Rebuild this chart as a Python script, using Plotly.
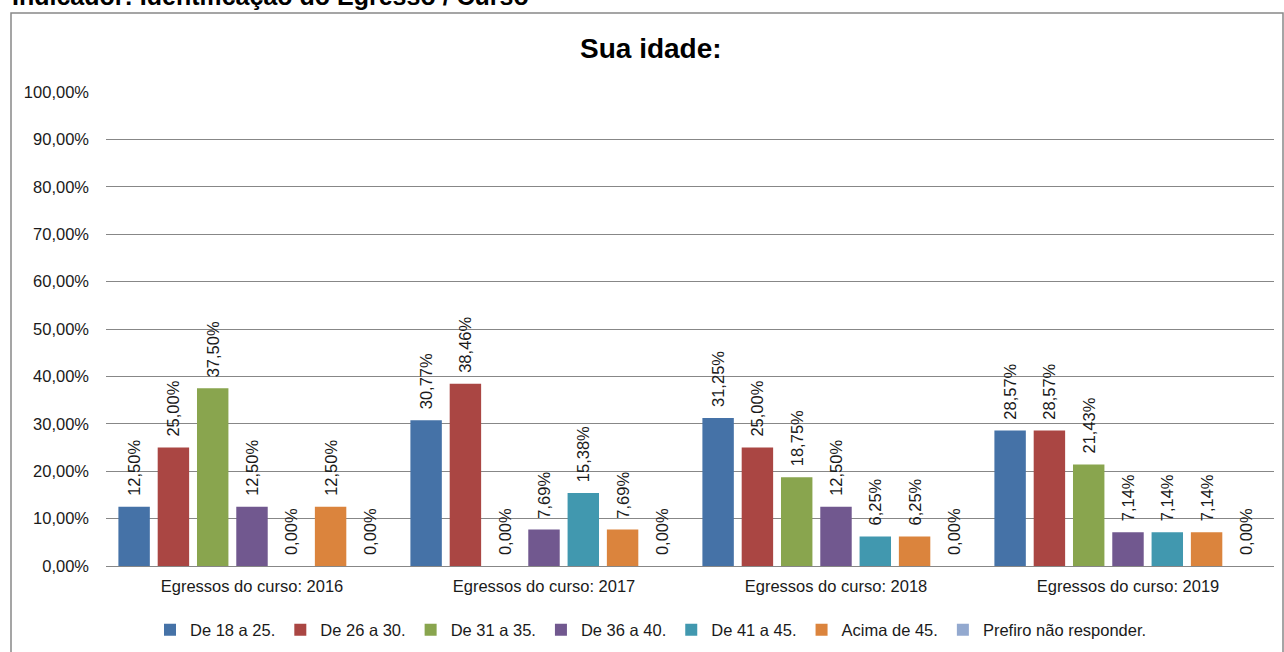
import plotly.graph_objects as go

categories = ["Egressos do curso: 2016", "Egressos do curso: 2017",
              "Egressos do curso: 2018", "Egressos do curso: 2019"]
series_names = ["De 18 a 25.", "De 26 a 30.", "De 31 a 35.", "De 36 a 40.",
                "De 41 a 45.", "Acima de 45.", "Prefiro não responder."]
de_18_25 = [12.50, 30.77, 31.25, 28.57]
de_26_30 = [25.00, 38.46, 25.00, 28.57]
de_31_35 = [37.50, 0.00, 18.75, 21.43]
de_36_40 = [12.50, 7.69, 12.50, 7.14]
de_41_45 = [0.00, 15.38, 6.25, 7.14]
acima_45 = [12.50, 7.69, 6.25, 7.14]
prefiro = [0.00, 0.00, 0.00, 0.00]
series_values = [de_18_25, de_26_30, de_31_35, de_36_40, de_41_45, acima_45, prefiro]
colors = ["#4572A7", "#AA4643", "#89A54E", "#71588F", "#4198AF", "#DB843D", "#93A9CF"]
ytick_vals = [0, 10, 20, 30, 40, 50, 60, 70, 80, 90, 100]
ytick_text = [f"{v:.2f}".replace(".", ",") + "%" for v in ytick_vals]

FONT = "Liberation Sans, Arial, sans-serif"
TXT = "#1a1a1a"
PAD = "\u00a0\u2009"  # small lead so labels sit a bit above the bars

fig = go.Figure()
for name, vals, col in zip(series_names, series_values, colors):
    fig.add_trace(go.Bar(
        x=categories, y=vals, name=name,
        marker=dict(color=col, line=dict(width=0)),
        text=[PAD + f"{v:.2f}".replace(".", ",") + "%" for v in vals],
        textposition="outside", textangle=-90, constraintext="none",
        textfont=dict(family=FONT, size=16.5, color=TXT),
        cliponaxis=False,
    ))

# plot area pixel geometry
L, R, T, B = 106, 10, 92, 86
W, H = 1284, 652
pw, ph = W - L - R, H - T - B

def px(x):
    return (x - L) / pw

def py(y):
    return (H - B - y) / ph

fig.update_layout(
    width=W, height=H,
    margin=dict(l=L, r=R, t=T, b=B, autoexpand=False),
    paper_bgcolor="white", plot_bgcolor="white",
    barmode="group", bargap=0.058, bargroupgap=0.2,
    font=dict(family=FONT, size=16.5, color=TXT),
    showlegend=True,
    legend=dict(orientation="h", x=px(651), xanchor="center", y=py(630), yanchor="middle",
                font=dict(family=FONT, size=16.5, color=TXT), itemwidth=30, tracegroupgap=0,
                bgcolor="rgba(0,0,0,0)"),
    xaxis=dict(showgrid=False, showline=False, ticks="", ticklabelstandoff=8,
               tickfont=dict(family=FONT, size=16.5, color=TXT)),
    yaxis=dict(range=[0, 100], tickvals=ytick_vals, ticktext=ytick_text,
               showgrid=True, gridcolor="#878787", gridwidth=1,
               zeroline=True, zerolinecolor="#878787", zerolinewidth=1,
               showline=False, ticks="", ticklabelstandoff=16,
               tickfont=dict(family=FONT, size=16.5, color=TXT)),
    annotations=[
        dict(text="<b>Sua idade:</b>", xref="paper", yref="paper",
             x=px(651), y=py(48), xanchor="center", yanchor="middle",
             showarrow=False, font=dict(family=FONT, size=28, color="#000000")),
        dict(text="<b>Indicador: Identificação do Egresso / Curso</b>", xref="paper", yref="paper",
             x=px(10), y=py(12), xanchor="left", yanchor="bottom",
             showarrow=False, font=dict(family=FONT, size=25, color="#000000")),
    ],
    shapes=[
        dict(type="rect", xref="paper", yref="paper",
             x0=px(11), x1=px(1283), y0=py(670), y1=py(13),
             line=dict(color="#888888", width=1.5), fillcolor="rgba(0,0,0,0)", layer="below"),
    ],
)

fig.write_html("out.html", config={"displayModeBar": False},
               post_script="document.body.style.margin='0';document.body.style.padding='0';")
